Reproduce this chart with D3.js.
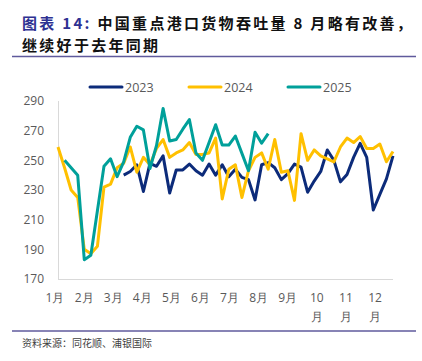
<!DOCTYPE html>
<html>
<head>
<meta charset="utf-8">
<script src="https://cdn.jsdelivr.net/npm/d3@7"></script>
<style>
  body { margin:0; background:#fff; }
  svg { display:block; }
</style>
</head>
<body>
<div id="chart"></div>
<script>
// chart data (weekly throughput, 52 weeks)
const months = ["1月","2月","3月","4月","5月","6月","7月","8月","9月","10月","11月","12月"];
const yTicks = [170, 190, 210, 230, 250, 270, 290];
const seriesNames = ["2023", "2024", "2025"];

const v2023 = [null, null, null, null, null, null, null, null, null, null,
  240, 242.5, 247, 229, 248, 246, 253, 228, 243.5, 243.5,
  247.5, 243, 240, 247.5, 240, 247, 239, 244, 238.5, 237,
  223.3, 247, 248.5, 245, 237, 241, 247.5, 245.5, 228.5, 236,
  242.5, 257, 250, 235.5, 240.5, 252, 261.5, 252, 216.5, 227,
  237.5, 253];

const v2024 = [259, 245, 230, 225, 190, 187, 192, 232, 234, 245,
  248, 259, 242, 252, 247, 258, 264, 252, 255, 257,
  262, 254, 254, 255, 265, 224, 244, 247, 225, 243,
  252, 255, 244, 264, 242, 243, 223, 268, 250, 257,
  253, 251, 249, 259, 265, 262, 266, 258, 258, 261,
  249, 256];

const v2025 = [null, 250, 245, 240, 183, 186, 216, 246, 251, 239,
  249, 265.5, 273, 270.5, 244.5, 260, 285, 263, 264, 271,
  277.5, 255, 250, 262, 274, 260.3, 260.3, 266.4, 254.7, 243,
  269, 261.5, 268];

const W = 422, H = 361;
const colors = {"2023":"#0c2b7a", "2024":"#ffc000", "2025":"#00a09a"};
const titleBlue = "#2e3192";

const svg = d3.select("#chart")
  .append("svg")
    .attr("width", W)
    .attr("height", H);

// title
const title1 = svg.append("text")
  .attr("x", 22).attr("y", 29)
  .style("font-family", "'Noto Sans CJK SC'")
  .style("font-size", "15px")
  .style("letter-spacing", "2.3px")
  .style("font-weight", "bold");
title1.append("tspan").attr("fill", titleBlue).text("图表 14:");
title1.append("tspan").attr("fill", "#111").text(" 中国重点港口货物吞吐量 8 月略有改善，");

svg.append("text")
  .attr("x", 22).attr("y", 50.5)
  .attr("fill", "#111")
  .style("font-family", "'Noto Sans CJK SC'")
  .style("font-size", "15px")
  .style("letter-spacing", "2.3px")
  .style("font-weight", "bold")
  .text("继续好于去年同期");

// rules
svg.append("line")
  .attr("x1", 12).attr("x2", 416).attr("y1", 56.5).attr("y2", 56.5)
  .attr("stroke", "#5f5a9c").attr("stroke-width", 1.5);
svg.append("line")
  .attr("x1", 12).attr("x2", 416).attr("y1", 331).attr("y2", 331)
  .attr("stroke", "#5f5a9c").attr("stroke-width", 1.5);

// source
svg.append("text")
  .attr("x", 22).attr("y", 347)
  .attr("fill", "#404040")
  .style("font-family", "'Noto Sans CJK SC'")
  .style("font-size", "10px")
  .text("资料来源：同花顺、浦银国际");

// scales
const x = d3.scaleLinear().domain([0, 51]).range([58, 393]);
const y = d3.scaleLinear().domain([170, 290]).range([279, 101]);
const xm = d3.scalePoint().domain(months).range([55, 375]);

// y axis
const yAxis = svg.append("g")
  .attr("transform", "translate(58,0)")
  .call(d3.axisLeft(y).tickValues(yTicks).tickSize(0).tickPadding(14));
yAxis.select(".domain").remove();
yAxis.selectAll("text")
  .attr("fill", "#595959")
  .style("font-family", "'Open Sans'")
  .style("font-size", "12px");

svg.append("line")
  .attr("x1", 58.5).attr("x2", 58.5).attr("y1", y(290)).attr("y2", y(170))
  .attr("stroke", "#d9d9d9").attr("stroke-width", 1);
svg.append("line")
  .attr("x1", 58).attr("x2", 393).attr("y1", y(170) + 0.5).attr("y2", y(170) + 0.5)
  .attr("stroke", "#d9d9d9").attr("stroke-width", 1);

// x labels (10-12 wrap onto two lines)
const xLab = svg.selectAll("text.month")
  .data(months)
  .join("text")
  .attr("class", "month")
  .attr("text-anchor", "middle")
  .attr("fill", "#595959")
  .style("font-family", "'Open Sans'")
  .style("font-size", "12px");
xLab.each(function(d) {
  const t = d3.select(this);
  const cx = xm(d);
  if (d.length > 2) {
    t.append("tspan").attr("x", cx).attr("y", 302).text(d.slice(0, -1));
    t.append("tspan").attr("x", cx).attr("y", 321).text("月");
  } else {
    t.append("tspan").attr("x", cx).attr("y", 302).text(d);
  }
});

// lines
const lineGen = d3.line()
  .defined(d => d != null)
  .x((d, i) => x(i))
  .y(d => y(d));

const allSeries = [v2023, v2024, v2025];
svg.selectAll("path.series")
  .data(allSeries)
  .join("path")
  .attr("class", "series")
  .attr("d", d => lineGen(d))
  .attr("fill", "none")
  .attr("stroke", (d, i) => colors[seriesNames[i]])
  .attr("stroke-width", 3)
  .attr("stroke-linejoin", "round");

// legend
const legendX = [90, 189, 288];
const legend = svg.selectAll(".legend")
  .data(seriesNames)
  .join("g")
  .attr("class", "legend")
  .attr("transform", (d, i) => `translate(${legendX[i]},87)`);
legend.append("line")
  .attr("x1", 0).attr("x2", 32)
  .attr("stroke", d => colors[d])
  .attr("stroke-width", 3)
  .attr("stroke-linecap", "round");
legend.append("text")
  .attr("x", 35).attr("y", 4.5)
  .attr("fill", "#595959")
  .style("font-family", "'Open Sans'")
  .style("font-size", "12.5px")
  .text(d => d);
</script>
</body>
</html>
